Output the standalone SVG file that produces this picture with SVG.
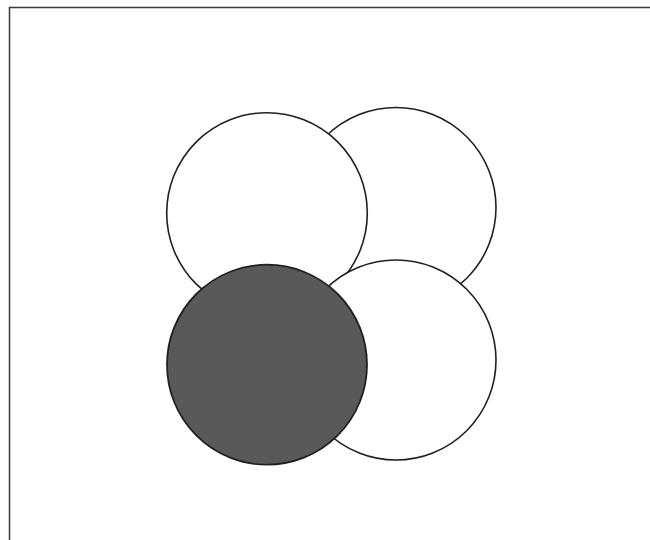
<svg xmlns="http://www.w3.org/2000/svg" width="650" height="540" viewBox="0 0 650 540">
<style>
.c{fill:#ffffff;stroke:#231f20;stroke-width:1.6}
.d{fill:#58595b;stroke:#231f20;stroke-width:1.8}
.b{fill:none;stroke:#3a3a3a;stroke-width:1.5}
</style>
<rect x="0" y="0" width="650" height="540" fill="#ffffff"/>
<path class="b" d="M9.5,540 L9.5,7.5 L650,7.5"/>
<g id="circle-top-right"><circle class="c" cx="396" cy="207.5" r="100"/></g>
<g id="circle-top-left"><circle class="c" cx="267" cy="213" r="100.3"/></g>
<g id="circle-bottom-right"><circle class="c" cx="396" cy="360" r="100"/></g>
<g id="circle-bottom-left"><circle class="d" cx="267" cy="364.7" r="100"/></g>
<g id="connectors"></g>
</svg>
